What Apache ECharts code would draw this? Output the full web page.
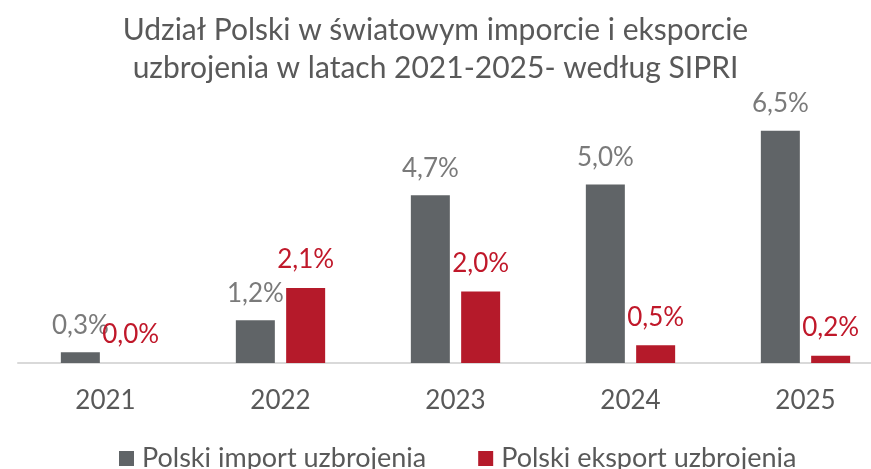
<!DOCTYPE html>
<html>
<head>
<meta charset="utf-8">
<script src="https://cdn.jsdelivr.net/npm/echarts@6/dist/echarts.min.js"></script>
<style>
	html, body { margin: 0; padding: 0; background: #fff; }
	#chart { width: 871px; height: 469px; }
</style>
</head>
<body>
<div id="chart"></div>
<script>
// dane z wykresu (SIPRI)
const years = ['2021', '2022', '2023', '2024', '2025']
const importShare = [0.3, 1.2, 4.7, 5.0, 6.5]
const exportShare = [0.0, 2.1, 2.0, 0.5, 0.2]

const FONT = 'Lato'
const fmt = p => p.value.toFixed(1).replace('.', ',') + '%'

const chart = echarts.init(document.getElementById('chart'))
const option = {
	backgroundColor: '#fff',
	animation: false,
	title: {
		text: 'Udział Polski w światowym imporcie i eksporcie\nuzbrojenia w latach 2021-2025- według SIPRI',
		left: 'center',
		top: 6,
		textStyle: {
			fontFamily: FONT,
			fontSize: 30,
			fontWeight: 'normal',
			color: '#595959',
			lineHeight: 38,
		},
	},
	grid: {
		left: 18,
		right: -22,
		top: 113,
		bottom: 106,
		// wykres w oryginale jest przycięty z prawej strony
		outerBoundsMode: 'none',
		containLabel: false,
	},
	legend: {
		top: 440,
		left: 114,
		itemWidth: 15,
		itemHeight: 15,
		itemGap: 52,
		icon: 'rect',
		textStyle: {
			fontFamily: FONT,
			fontSize: 27,
			color: '#595959',
			padding: [0, 0, 0, 3],
		},
		data: ['Polski import uzbrojenia', 'Polski eksport uzbrojenia'],
	},
	xAxis: {
		type: 'category',
		data: years,
		axisLine: { lineStyle: { color: '#d9d9d9', width: 2 } },
		axisTick: { show: false },
		axisLabel: {
			margin: 25,
			fontFamily: FONT,
			fontSize: 26,
			color: '#595959',
		},
	},
	yAxis: {
		type: 'value',
		min: 0,
		max: 7,
		show: false,
		splitLine: { show: false },
	},
	series: [
		{
			name: 'Polski import uzbrojenia',
			type: 'bar',
			barWidth: 39,
			barGap: '29%',
			itemStyle: { color: '#606467' },
			label: {
				show: true,
				position: 'top',
				distance: 14,
				formatter: fmt,
				fontFamily: FONT,
				fontSize: 26,
				color: '#7a7a7a',
			},
			data: importShare,
		},
		{
			name: 'Polski eksport uzbrojenia',
			type: 'bar',
			barWidth: 39,
			itemStyle: { color: '#b51a2a' },
			label: {
				show: true,
				position: 'top',
				distance: 15,
				formatter: fmt,
				fontFamily: FONT,
				fontSize: 26,
				color: '#c0182a',
			},
			data: exportShare,
		},
	],
}
chart.setOption(option)
</script>
</body>
</html>
